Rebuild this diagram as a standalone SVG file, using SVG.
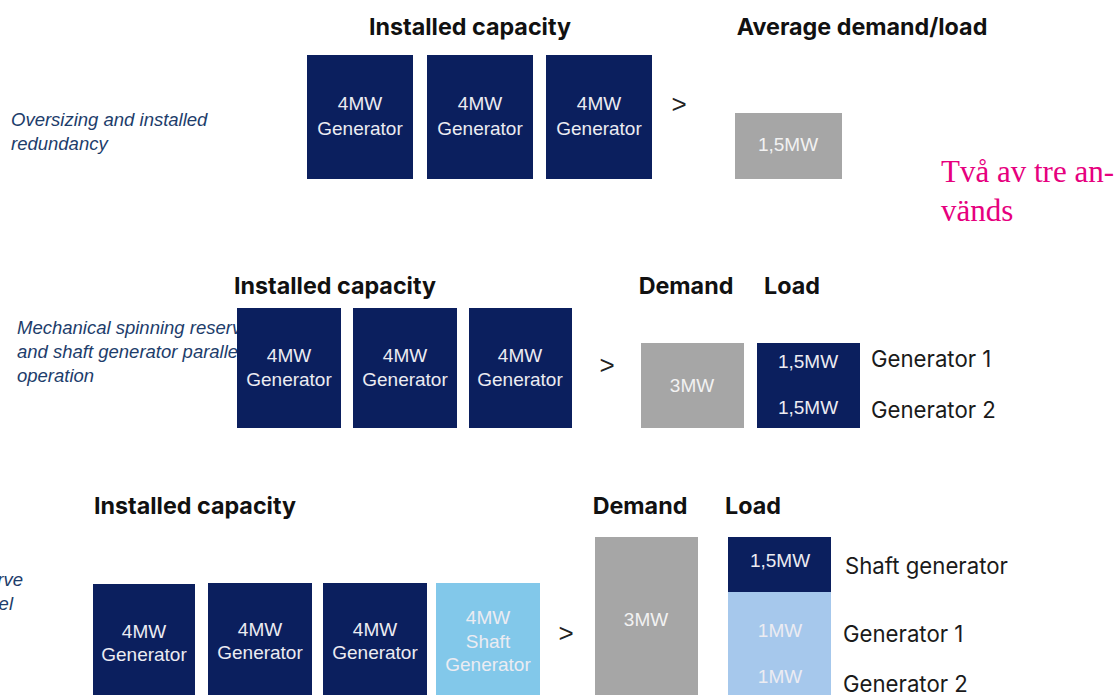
<svg xmlns="http://www.w3.org/2000/svg" width="1114" height="695" viewBox="0 0 1114 695">
<style>
.h{font-family:Inter,"Noto Sans",sans-serif;font-weight:700;font-size:23.3px;fill:#111;}
.navy{fill:#0b1f5e;}
.gray{fill:#a6a6a6;}
.sky{fill:#82c8ea;}
.pale{fill:#a6c8ec;}
.bt{font-family:"Liberation Sans",Arial,sans-serif;font-size:19px;fill:#ececf2;text-anchor:middle;}
.gt{font-family:"Liberation Sans",Arial,sans-serif;font-size:19px;fill:#f2f2f2;text-anchor:middle;}
.it{font-family:"Liberation Sans",Arial,sans-serif;font-style:italic;font-size:18.5px;fill:#1d3d6b;}
.lbl{font-family:Inter,"Noto Sans",sans-serif;font-size:22.2px;fill:#1a1a1a;}
.gtr{font-family:"Liberation Sans",Arial,sans-serif;font-size:26px;fill:#222;}
.pink{font-family:"Liberation Serif","Times New Roman",serif;font-size:31px;fill:#e6007e;}
</style>
<rect width="1114" height="695" fill="#fff"/>

<!-- Section 1 -->
<g id="sec1-labels">
<text class="it" x="11" y="126">Oversizing and installed</text>
<text class="it" x="11" y="150">redundancy</text>
<text class="h" x="470" y="35" text-anchor="middle">Installed capacity</text>
<text class="h" x="862" y="35" text-anchor="middle">Average demand/load</text>
<text class="gtr" x="679" y="113" text-anchor="middle">&gt;</text>
<text class="pink" x="941" y="182">Två av tre an-</text>
<text class="pink" x="941" y="221">vänds</text>
</g>
<g id="s1-gen1"><rect class="navy" x="307" y="55" width="106" height="124"/><text class="bt" x="360" y="110">4MW</text><text class="bt" x="360" y="135">Generator</text></g>
<g id="s1-gen2"><rect class="navy" x="427" y="55" width="106" height="124"/><text class="bt" x="480" y="110">4MW</text><text class="bt" x="480" y="135">Generator</text></g>
<g id="s1-gen3"><rect class="navy" x="546" y="55" width="106" height="124"/><text class="bt" x="599" y="110">4MW</text><text class="bt" x="599" y="135">Generator</text></g>
<g id="s1-load"><rect class="gray" x="735" y="113" width="107" height="66"/><text class="gt" x="788" y="151">1,5MW</text></g>

<!-- Section 2 -->
<g id="sec2-labels">
<text class="it" x="17" y="334">Mechanical spinning reserve</text>
<text class="it" x="17" y="358">and shaft generator parallel</text>
<text class="it" x="17" y="382">operation</text>
<text class="h" x="335" y="294" text-anchor="middle">Installed capacity</text>
<text class="h" x="686" y="294" text-anchor="middle">Demand</text>
<text class="h" x="792" y="294" text-anchor="middle">Load</text>
<text class="gtr" x="607" y="374" text-anchor="middle">&gt;</text>
<text class="lbl" x="871" y="367">Generator 1</text>
<text class="lbl" x="871" y="418">Generator 2</text>
</g>
<g id="s2-gen1"><rect class="navy" x="237" y="308" width="104" height="120"/><text class="bt" x="289" y="362">4MW</text><text class="bt" x="289" y="386">Generator</text></g>
<g id="s2-gen2"><rect class="navy" x="353" y="308" width="104" height="120"/><text class="bt" x="405" y="362">4MW</text><text class="bt" x="405" y="386">Generator</text></g>
<g id="s2-gen3"><rect class="navy" x="469" y="308" width="103" height="120"/><text class="bt" x="520" y="362">4MW</text><text class="bt" x="520" y="386">Generator</text></g>
<g id="s2-demand"><rect class="gray" x="641" y="343" width="103" height="85"/><text class="gt" x="692" y="392">3MW</text></g>
<g id="s2-load"><rect class="navy" x="757" y="343" width="103" height="85"/><text class="bt" x="808" y="368">1,5MW</text><text class="bt" x="808" y="414">1,5MW</text></g>

<!-- Section 3 -->
<g id="sec3-labels">
<text class="it" x="23" y="586" text-anchor="end">rve</text>
<text class="it" x="13" y="610" text-anchor="end">el</text>
<text class="h" x="195" y="514" text-anchor="middle">Installed capacity</text>
<text class="h" x="640" y="514" text-anchor="middle">Demand</text>
<text class="h" x="753" y="514" text-anchor="middle">Load</text>
<text class="gtr" x="566" y="642" text-anchor="middle">&gt;</text>
<text class="lbl" x="845" y="574">Shaft generator</text>
<text class="lbl" x="843" y="642">Generator 1</text>
<text class="lbl" x="843" y="692">Generator 2</text>
</g>
<g id="s3-gen1"><rect class="navy" x="93" y="584" width="102" height="120"/><text class="bt" x="144" y="638">4MW</text><text class="bt" x="144" y="661">Generator</text></g>
<g id="s3-gen2"><rect class="navy" x="208" y="583" width="104" height="120"/><text class="bt" x="260" y="636">4MW</text><text class="bt" x="260" y="659">Generator</text></g>
<g id="s3-gen3"><rect class="navy" x="323" y="583" width="104" height="120"/><text class="bt" x="375" y="636">4MW</text><text class="bt" x="375" y="659">Generator</text></g>
<g id="s3-shaft"><rect class="sky" x="436" y="583" width="104" height="120"/><text class="bt" x="488" y="624">4MW</text><text class="bt" x="488" y="648">Shaft</text><text class="bt" x="488" y="671">Generator</text></g>
<g id="s3-demand"><rect class="gray" x="595" y="537" width="103" height="170"/><text class="gt" x="646" y="626">3MW</text></g>
<g id="s3-load"><rect class="navy" x="728" y="537" width="103" height="55"/><text class="bt" x="780" y="567">1,5MW</text><rect class="pale" x="728" y="592" width="103" height="115"/><text class="bt" x="780" y="637">1MW</text><text class="bt" x="780" y="683">1MW</text></g>
<g id="connectors"></g>
</svg>
